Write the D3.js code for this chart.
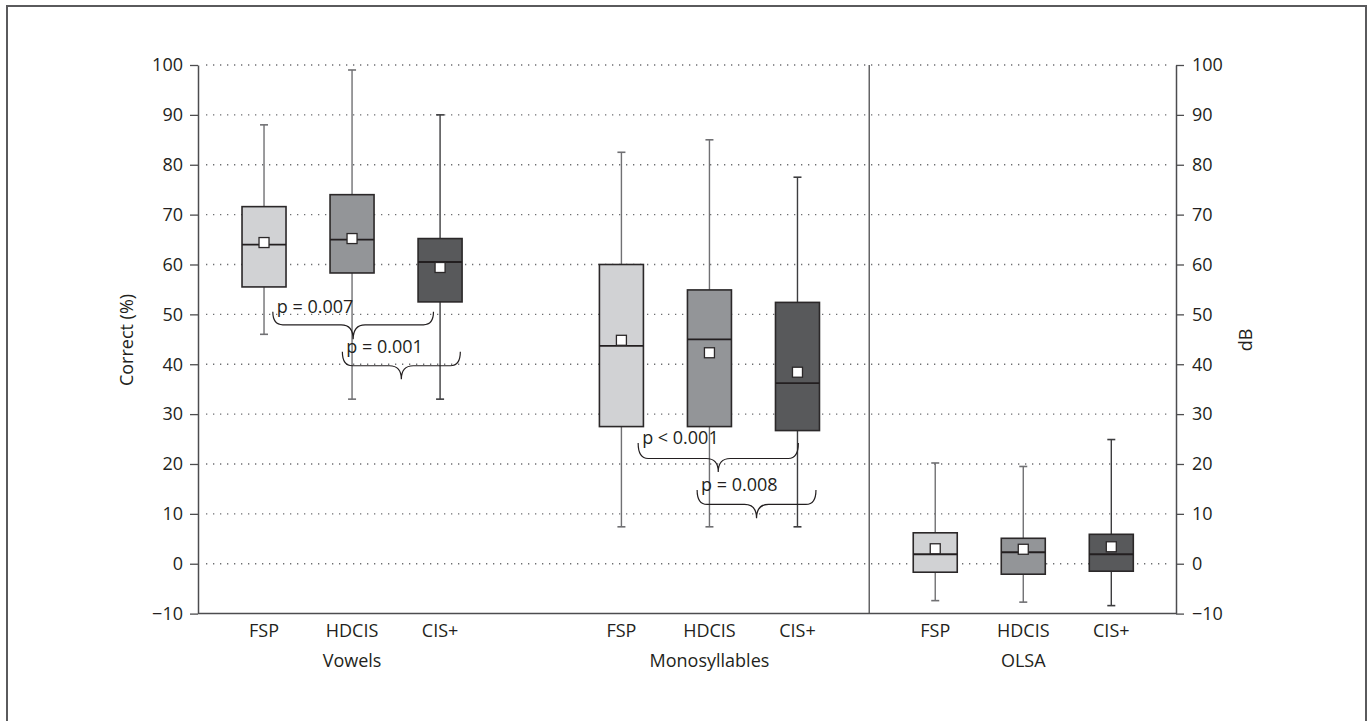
<!DOCTYPE html>
<html>
<head>
<meta charset="utf-8">
<script src="https://cdn.jsdelivr.net/npm/d3@7"></script>
<style>
  html, body { margin: 0; padding: 0; background: #fff; }
  svg { display: block; font-family: "Open Sans", "Noto Sans", sans-serif; }
</style>
</head>
<body>
<svg id="chart" width="1371" height="721"></svg>
<script>
// ---------- data ----------
const groups = ["Vowels", "Monosyllables", "OLSA"];
const conditions = ["FSP", "HDCIS", "CIS+"];
const yTicks = [-10, 0, 10, 20, 30, 40, 50, 60, 70, 80, 90, 100];

// per group, per condition: [whiskerLow, q1, median, q3, whiskerHigh]
const vowelsStats = [
  [46.0, 55.5, 64.0, 71.6, 88.0],
  [33.0, 58.3, 65.0, 74.0, 99.0],
  [33.0, 52.5, 60.5, 65.2, 90.0]
];
const monoStats = [
  [7.4, 27.5, 43.7, 60.0, 82.5],
  [7.4, 27.5, 45.0, 54.9, 85.0],
  [7.4, 26.7, 36.2, 52.4, 77.5]
];
const olsaStats = [
  [-7.4, -1.7, 1.9, 6.2, 20.2],
  [-7.7, -2.1, 2.3, 5.1, 19.5],
  [-8.4, -1.5, 1.9, 5.9, 24.9]
];
const vowelsMeans = [64.4, 65.2, 59.4];
const monoMeans = [44.8, 42.3, 38.4];
const olsaMeans = [3.0, 2.9, 3.4];

// significance brackets: x ends in slot units, y levels in data units
const pLabels = ["p = 0.007", "p = 0.001", "p < 0.001", "p = 0.008"];
const pFrom = [0.85, 1.64, 5.0, 5.67];
const pTo = [2.675, 2.98, 6.82, 7.02];
const pEnd = [50.5, 42.5, 24.2, 14.8];
const pLine = [47.9, 39.7, 21.1, 11.9];
const pTip = [45.0, 37.0, 18.4, 9.1];

// ---------- layout ----------
const stats = [vowelsStats, monoStats, olsaStats];
const means = [vowelsMeans, monoMeans, olsaMeans];
const groupStart = [0.75, 4.81, 8.375]; // slot position of first box in each group
const separatorPos = 7.625;
const fills = ["#d1d2d4", "#939598", "#58595b"];
const FS = "18px";

const svg = d3.select("#chart");
const pL = 198, pR = 1176, pT = 65, pB = 613.6;
const x = d3.scaleLinear().domain([0, 11.11]).range([pL, pR]);
const y = d3.scaleLinear().domain([-10, 100]).range([pB, pT]);
const boxW = 44;

// outer frame
svg.append("rect").attr("x", 7).attr("y", 6).attr("width", 1359).attr("height", 730)
  .attr("fill", "none").attr("stroke", "#5a5a5c").attr("stroke-width", 2);

// dotted gridlines
svg.append("g").selectAll("line").data(yTicks.filter(d => d > -10)).join("line")
  .attr("x1", pL + 8).attr("x2", pR - 4)
  .attr("y1", d => y(d)).attr("y2", d => y(d))
  .attr("stroke", "#6d6e71").attr("stroke-width", 1.3)
  .attr("stroke-dasharray", "1.3,5.7");

// axes
const axisStyle = g => {
  g.selectAll("path").attr("stroke", "#4d4d4f").attr("stroke-width", 1.5);
  g.selectAll(".tick line").attr("stroke", "#4d4d4f").attr("stroke-width", 1.3);
  g.selectAll("text").attr("fill", "#231f20").style("font-size", FS)
    .style("font-family", "'Open Sans', 'Noto Sans', sans-serif");
};
const fmt = d => d < 0 ? "\u2212" + Math.abs(d) : String(d);
svg.append("g").attr("transform", `translate(${pL},0)`)
  .call(d3.axisLeft(y).tickValues(yTicks).tickFormat(fmt).tickSize(8).tickSizeOuter(0).tickPadding(7))
  .call(axisStyle);
svg.append("g").attr("transform", `translate(${pR},0)`)
  .call(d3.axisRight(y).tickValues(yTicks).tickFormat(fmt).tickSize(8).tickSizeOuter(0).tickPadding(8))
  .call(axisStyle);
// bottom axis line
svg.append("line").attr("x1", pL).attr("x2", pR).attr("y1", y(-10)).attr("y2", y(-10))
  .attr("stroke", "#4d4d4f").attr("stroke-width", 1.5);
// separator
svg.append("line").attr("x1", x(separatorPos)).attr("x2", x(separatorPos))
  .attr("y1", y(100)).attr("y2", y(-10))
  .attr("stroke", "#4d4d4f").attr("stroke-width", 1.3);

// boxes
const boxes = [];
groups.forEach((g, gi) => conditions.forEach((c, ci) => {
  boxes.push({ g, c, ci, pos: groupStart[gi] + ci, s: stats[gi][ci], m: means[gi][ci] });
}));
const bg = svg.append("g").selectAll("g").data(boxes).join("g");
// whiskers
bg.append("line").attr("x1", d => x(d.pos)).attr("x2", d => x(d.pos))
  .attr("y1", d => y(d.s[0])).attr("y2", d => y(d.s[4]))
  .attr("stroke", d => d.ci === 2 ? "#3d3d3f" : "#707073").attr("stroke-width", 1.4);
bg.selectAll("line.cap").data(d => [d, d].map((e, i) => ({ ...e, v: i ? e.s[4] : e.s[0] }))).join("line")
  .attr("class", "cap")
  .attr("x1", d => x(d.pos) - 4).attr("x2", d => x(d.pos) + 4)
  .attr("y1", d => y(d.v)).attr("y2", d => y(d.v))
  .attr("stroke", d => d.ci === 2 ? "#3d3d3f" : "#707073").attr("stroke-width", 1.6);
// box
bg.append("rect").attr("x", d => x(d.pos) - boxW / 2).attr("width", boxW)
  .attr("y", d => y(d.s[3])).attr("height", d => y(d.s[1]) - y(d.s[3]))
  .attr("fill", d => fills[d.ci]).attr("stroke", "#2b2829").attr("stroke-width", 1.6);
// median
bg.append("line").attr("x1", d => x(d.pos) - boxW / 2).attr("x2", d => x(d.pos) + boxW / 2)
  .attr("y1", d => y(d.s[2])).attr("y2", d => y(d.s[2]))
  .attr("stroke", "#231f20").attr("stroke-width", 1.8);
// mean
bg.append("rect").attr("x", d => x(d.pos) - 5).attr("y", d => y(d.m) - 5)
  .attr("width", 10).attr("height", 10)
  .attr("fill", "#fff").attr("stroke", "#2b2829").attr("stroke-width", 1.3);

// category labels
svg.append("g").selectAll("text").data(boxes).join("text")
  .attr("x", d => x(d.pos)).attr("y", 637).attr("text-anchor", "middle")
  .style("font-size", FS).attr("fill", "#231f20").text(d => d.c);
// group labels
svg.append("g").selectAll("text").data(groups).join("text")
  .attr("x", (d, i) => x(groupStart[i] + 1)).attr("y", 667).attr("text-anchor", "middle")
  .style("font-size", FS).attr("fill", "#231f20").text(d => d);

// axis titles
svg.append("text").attr("transform", `translate(133,340) rotate(-90)`).attr("text-anchor", "middle")
  .style("font-size", FS).attr("fill", "#231f20").text("Correct (%)");
svg.append("text").attr("transform", `translate(1252,340) rotate(-90)`).attr("text-anchor", "middle")
  .style("font-size", FS).attr("fill", "#231f20").text("dB");

// braces
const braces = pLabels.map((l, i) => ({ l, x1: pFrom[i], x2: pTo[i], e: pEnd[i], h: pLine[i], t: pTip[i] }));
const bracePath = d => {
  const x1 = x(d.x1), x2 = x(d.x2), xm = (x1 + x2) / 2;
  const ye = y(d.e), yh = y(d.h), yt = y(d.t);
  const r = 10, r2 = 12;
  return `M${x1},${ye} Q${x1},${yh} ${x1 + r},${yh} L${xm - r2},${yh} Q${xm},${yh} ${xm},${yt}` +
         ` Q${xm},${yh} ${xm + r2},${yh} L${x2 - r},${yh} Q${x2},${yh} ${x2},${ye}`;
};
const brg = svg.append("g").selectAll("g").data(braces).join("g");
brg.append("path").attr("d", bracePath).attr("fill", "none")
  .attr("stroke", "#231f20").attr("stroke-width", 1.2);
brg.append("text").attr("x", d => x(d.x1) + 4)
  .attr("y", d => y(d.e) + 1)
  .style("font-size", FS).attr("fill", "#231f20").text(d => d.l);
</script>
</body>
</html>
